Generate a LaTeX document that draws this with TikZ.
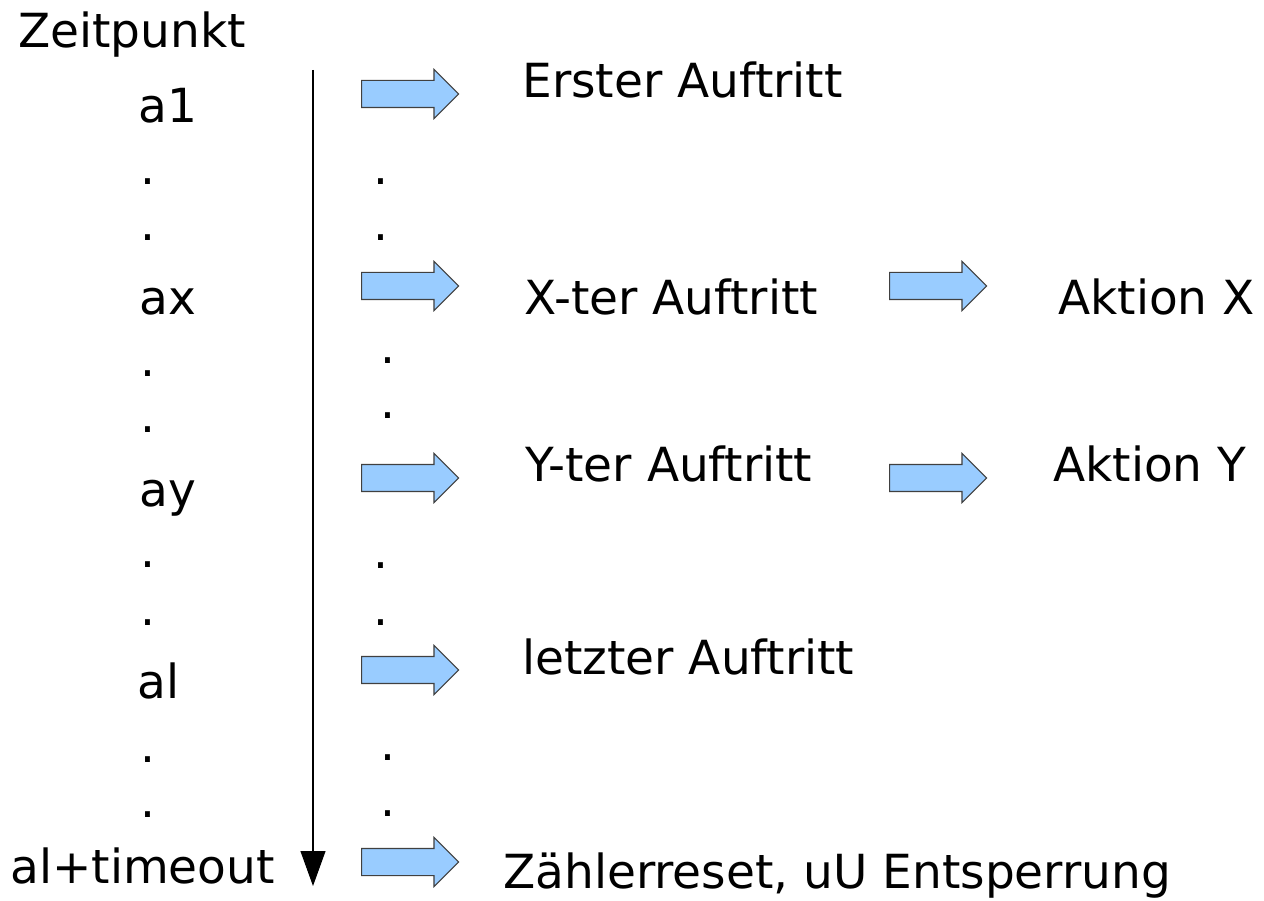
\documentclass[tikz,border=0pt]{standalone}
\usepackage{fontspec}
\setmainfont{DejaVu Sans}
\usepackage{tikz}
\usetikzlibrary{arrows.meta,shapes.arrows}

\definecolor{hellblau}{HTML}{99CCFF}

\tikzset{
  lbl/.style={inner sep=0pt, anchor=base west, font=\fontsize{26.75}{32}\selectfont},
  pkt/.style={lbl, anchor=base},
  pfeil/.style={single arrow, draw=black!75, fill=hellblau, line width=0.6pt,
    inner xsep=0pt, inner ysep=0.26cm, minimum height=1.94cm, minimum width=0.96cm,
    single arrow head extend=0.22cm, single arrow tip angle=90, anchor=tail}
}

\begin{document}
\begin{tikzpicture}[x=0.02cm, y=-0.02cm]
   \useasboundingbox (0,0) rectangle (1264,901);

   % Zeitachse
   \coordinate (oben) at (313,70);
   \coordinate (unten) at (313,886);
   \draw[line width=0.6pt, -{Triangle[length=0.7cm, width=0.5cm]}] (oben) -- (unten);

   % linke Spalte: Zeitpunkte
   \node[lbl] (zp) at (18,48) {Zeitpunkt};
   \node[lbl] (a1) at (138,123) {a1};
   \node[pkt] (l1) at (148,185) {.};
   \node[pkt] (l2) at (148,241) {.};
   \node[lbl] (ax) at (139,315) {ax};
   \node[pkt] (l3) at (148,377) {.};
   \node[pkt] (l4) at (148,433) {.};
   \node[lbl] (ay) at (139,507) {ay};
   \node[pkt] (l5) at (148,568) {.};
   \node[pkt] (l6) at (148,625) {.};
   \node[lbl] (al) at (137,698) {al};
   \node[pkt] (l7) at (148,762) {.};
   \node[pkt] (l8) at (148,817) {.};
   \node[lbl] (alt) at (10,883) {al+timeout};

   % mittlere Spalte: Auftritte
   \node[pfeil] (pf1) at (361,94) {};
   \node[lbl] (erst) at (522,98) {Erster Auftritt};
   \node[pkt] (m1) at (381,185) {.};
   \node[pkt] (m2) at (381,241) {.};
   \node[pfeil] (pf2) at (361,286) {};
   \node[lbl] (xter) at (524,315) {X-ter Auftritt};
   \node[pkt] (m3) at (388,364) {.};
   \node[pkt] (m4) at (388,419) {.};
   \node[pfeil] (pf3) at (361,478) {};
   \node[lbl] (yter) at (525,482) {Y-ter Auftritt};
   \node[pkt] (m5) at (381,569) {.};
   \node[pkt] (m6) at (381,625) {.};
   \node[pfeil] (pf4) at (361,670) {};
   \node[lbl] (letzt) at (522,674) {letzter Auftritt};
   \node[pkt] (m7) at (388,760) {.};
   \node[pkt] (m8) at (388,816) {.};
   \node[pfeil] (pf5) at (361,862) {};
   \node[lbl] (reset) at (503,888) {Zählerreset, uU Entsperrung};

   % rechte Spalte: Aktionen
   \node[pfeil] (pf6) at (889,286) {};
   \node[lbl] (akx) at (1058,315) {Aktion X};
   \node[pfeil] (pf7) at (889,478) {};
   \node[lbl] (aky) at (1053,482) {Aktion Y};
\end{tikzpicture}
\end{document}
